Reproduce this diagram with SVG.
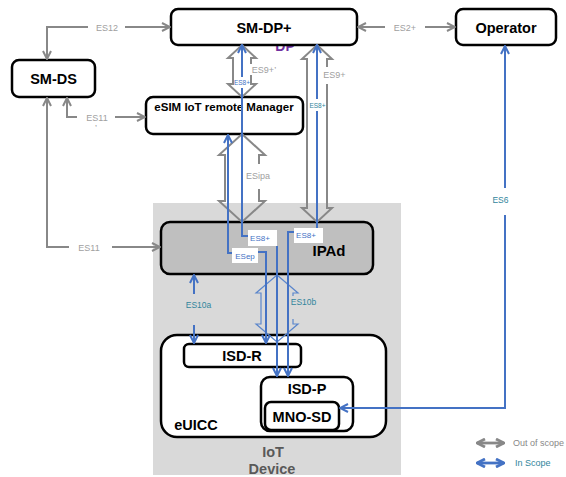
<svg xmlns="http://www.w3.org/2000/svg" width="566" height="477" viewBox="0 0 566 477">
<defs>
<style>
.box{fill:#fff;stroke:#000;stroke-width:2.5}
.t{font-family:"Liberation Sans",Arial,sans-serif;font-weight:bold;font-size:14.5px;fill:#000;text-anchor:middle}
.g{fill:none;stroke:#888;stroke-width:2}
.b{fill:none;stroke:#4472c4;stroke-width:2}
.hol{fill:none;stroke:#888;stroke-width:2;stroke-linejoin:miter}
.holb{fill:none;stroke:#5b86cc;stroke-width:1.2}
.lg{font-family:"Liberation Sans",Arial,sans-serif;font-size:9px;fill:#a0a0a0;text-anchor:middle}
.lt{font-family:"Liberation Sans",Arial,sans-serif;font-size:8.5px;fill:#31859c;text-anchor:middle}
.lb{font-family:"Liberation Sans",Arial,sans-serif;font-size:8px;fill:#4472c4;text-anchor:middle}
.ga{marker-end:url(#ag)}
.ba{marker-end:url(#ab)}
</style>
<marker id="ag" viewBox="0 0 10 10" refX="9" refY="5" markerWidth="10" markerHeight="10" markerUnits="userSpaceOnUse" orient="auto-start-reverse">
<path d="M1,1 L9,5 L1,9" fill="none" stroke="#888" stroke-width="2"/>
</marker>
<marker id="ab" viewBox="0 0 10 10" refX="9" refY="5" markerWidth="10" markerHeight="10" markerUnits="userSpaceOnUse" orient="auto-start-reverse">
<path d="M1,1 L9,5 L1,9" fill="none" stroke="#4472c4" stroke-width="2"/>
</marker>
<marker id="agl" viewBox="0 0 10 10" refX="9" refY="5" markerWidth="10" markerHeight="10" markerUnits="userSpaceOnUse" orient="auto-start-reverse">
<path d="M1,1 L9,5 L1,9" fill="none" stroke="#888" stroke-width="2.8"/>
</marker>
<marker id="abl" viewBox="0 0 10 10" refX="9" refY="5" markerWidth="10" markerHeight="10" markerUnits="userSpaceOnUse" orient="auto-start-reverse">
<path d="M1,1 L9,5 L1,9" fill="none" stroke="#4472c4" stroke-width="2.8"/>
</marker>
</defs>

<rect id="iot-device" x="153" y="203" width="248" height="272" fill="#d9d9d9"/>
<text x="285" y="51" font-family="Liberation Sans,Arial,sans-serif" font-weight="bold" font-size="14" fill="#7030a0" text-anchor="middle">DP</text>

<g id="sm-dp">
<rect class="box" x="171" y="9" width="186" height="36" rx="7"/>
<text class="t" x="264" y="33">SM-DP+</text>
</g>
<g id="operator">
<rect class="box" x="456" y="9" width="100" height="36" rx="7"/>
<text class="t" x="506" y="33">Operator</text>
</g>
<g id="sm-ds">
<rect class="box" x="12" y="60" width="83" height="37" rx="7"/>
<text class="t" x="53.500" y="84">SM-DS</text>
</g>
<g id="esim-iot-manager">
<rect class="box" x="146" y="97" width="157" height="37" rx="7"/>
<text class="t" x="224" y="111" style="font-size:11.5px">eSIM IoT remote Manager</text>
</g>
<g id="ipad">
<rect x="161" y="222" width="212" height="52" rx="9" fill="#bfbfbf" stroke="#000" stroke-width="2.5"/>
<text class="t" x="329" y="256" style="font-size:15px">IPAd</text>
</g>
<g id="euicc">
<rect class="box" x="161" y="335" width="225" height="102" rx="16"/>
<text class="t" x="196" y="430">eUICC</text>
</g>
<g id="isd-r">
<rect class="box" x="184" y="344" width="117" height="23" rx="5"/>
<text class="t" x="242" y="361">ISD-R</text>
</g>
<g id="isd-p">
<rect class="box" x="261" y="377" width="92" height="54" rx="9"/>
<text class="t" x="307" y="394">ISD-P</text>
</g>
<g id="mno-sd">
<rect class="box" x="265" y="402" width="74" height="28" rx="6"/>
<text class="t" x="302" y="422">MNO-SD</text>
</g>
<g id="iot-device-label">
<text class="t" x="273" y="457" style="fill:#595959">IoT</text>
<text class="t" x="272" y="474" style="fill:#595959">Device</text>
</g>

<g id="connectors">
<!-- ES12 -->
<path class="g ga" d="M88,27 L47,27 L47,59"/>
<path class="g ga" d="M125,27 L170,27"/>
<text class="lg" x="107" y="31">ES12</text>
<!-- ES2+ -->
<path class="g ga" d="M385,27 L358,27"/>
<path class="g ga" d="M425,27 L455,27"/>
<text class="lg" x="405" y="31">ES2+</text>
<!-- ES11 upper -->
<path class="g ga" d="M77,117 L67,117 L67,98"/>
<path class="g ga" d="M115,117 L145,117"/>
<text class="lg" x="97" y="121">ES11</text>
<text class="lg" x="96" y="131">’</text>
<!-- ES11 lower -->
<path class="g ga" d="M69,247 L47,247 L47,98"/>
<path class="g ga" d="M112,247 L160,247"/>
<text class="lg" x="89" y="251">ES11</text>

<!-- hollow arrow SM-DP+ / eSIM -->
<polygon class="hol" points="242,45 256,58 251,58 251,84 256,84 242,97 228,84 233,84 233,58 228,58"/>
<rect x="250" y="64" width="28" height="11" fill="#fff"/>
<text class="lg" x="264" y="73">ES9+’</text>
<!-- hollow arrow ESipa -->
<polygon class="hol" points="242,134 265,155 259,155 259,201 265,201 242,222 219,201 225,201 225,155 219,155"/>
<rect x="246" y="164" width="26" height="25" fill="#fff"/>
<text class="lg" x="258" y="179">ESipa</text>
<!-- hollow arrow SM-DP+ / IPAd -->
<polygon class="hol" points="317,45 332,59 327,59 327,208 332,208 317,222 302,208 307,208 307,59 302,59"/>
<rect x="323" y="67" width="23" height="17" fill="#fff"/>
<text class="lg" x="334.500" y="78">ES9+</text>

<!-- ES10b hollow blue -->
<polygon class="holb" points="277,275 298,293 293,293 293,324 298,324 277,342 256,324 261,324 261,293 256,293"/>
<rect x="290" y="296" width="28" height="23" fill="#d9d9d9"/>
<text class="lt" x="303.500" y="305">ES10b</text>

<!-- ES8+ left -->
<path class="b ba" d="M248,236 L242,236 L242,45"/>
<rect x="234" y="77" width="16" height="11" fill="#fff"/>
<text class="lb" x="242" y="85" style="font-size:6.5px">ES8+</text>
<rect x="248" y="230" width="29" height="16" fill="#fff"/>
<text class="lb" x="260" y="241">ES8+</text>
<path class="b ba" d="M277,246 L277,376"/>
<!-- ESep -->
<path class="b ba" d="M232,253 L228,253 L228,135"/>
<rect x="232" y="248" width="26" height="15" fill="#fff"/>
<text class="lb" x="245" y="259">ESep</text>
<path class="b ba" d="M258,252 L266,252 L266,343"/>
<!-- ES8+ right -->
<path class="b ba" d="M317,228 L317,45"/>
<rect x="309" y="99" width="17" height="12" fill="#fff"/>
<text class="lt" x="317.500" y="108" style="font-size:6.5px">ES8+</text>
<rect x="294" y="228" width="29" height="15" fill="#fff"/>
<text class="lb" x="306" y="238">ES8+</text>
<path class="b ba" d="M294,232 L288,232 L288,376"/>
<!-- ES10a -->
<path class="b ba" d="M194,294 L194,275"/>
<path class="b ba" d="M194,325 L194,343"/>
<text class="lt" x="198.500" y="308">ES10a</text>
<!-- ES6 -->
<path class="b ba" d="M505,188 L505,46"/>
<path class="b ba" d="M505,215 L505,408 L340,408"/>
<text class="lt" x="500.500" y="203">ES6</text>
</g>

<g id="legend">
<path d="M477,443 L504,443" fill="none" stroke="#888" stroke-width="2.8" marker-start="url(#agl)" marker-end="url(#agl)"/>
<text x="513" y="446" font-family="Liberation Sans,Arial,sans-serif" font-size="9" fill="#888">Out of scope</text>
<path d="M477,463 L504,463" fill="none" stroke="#4472c4" stroke-width="2.8" marker-start="url(#abl)" marker-end="url(#abl)"/>
<text x="515" y="466" font-family="Liberation Sans,Arial,sans-serif" font-size="9" fill="#31859c">In Scope</text>
</g>
</svg>
